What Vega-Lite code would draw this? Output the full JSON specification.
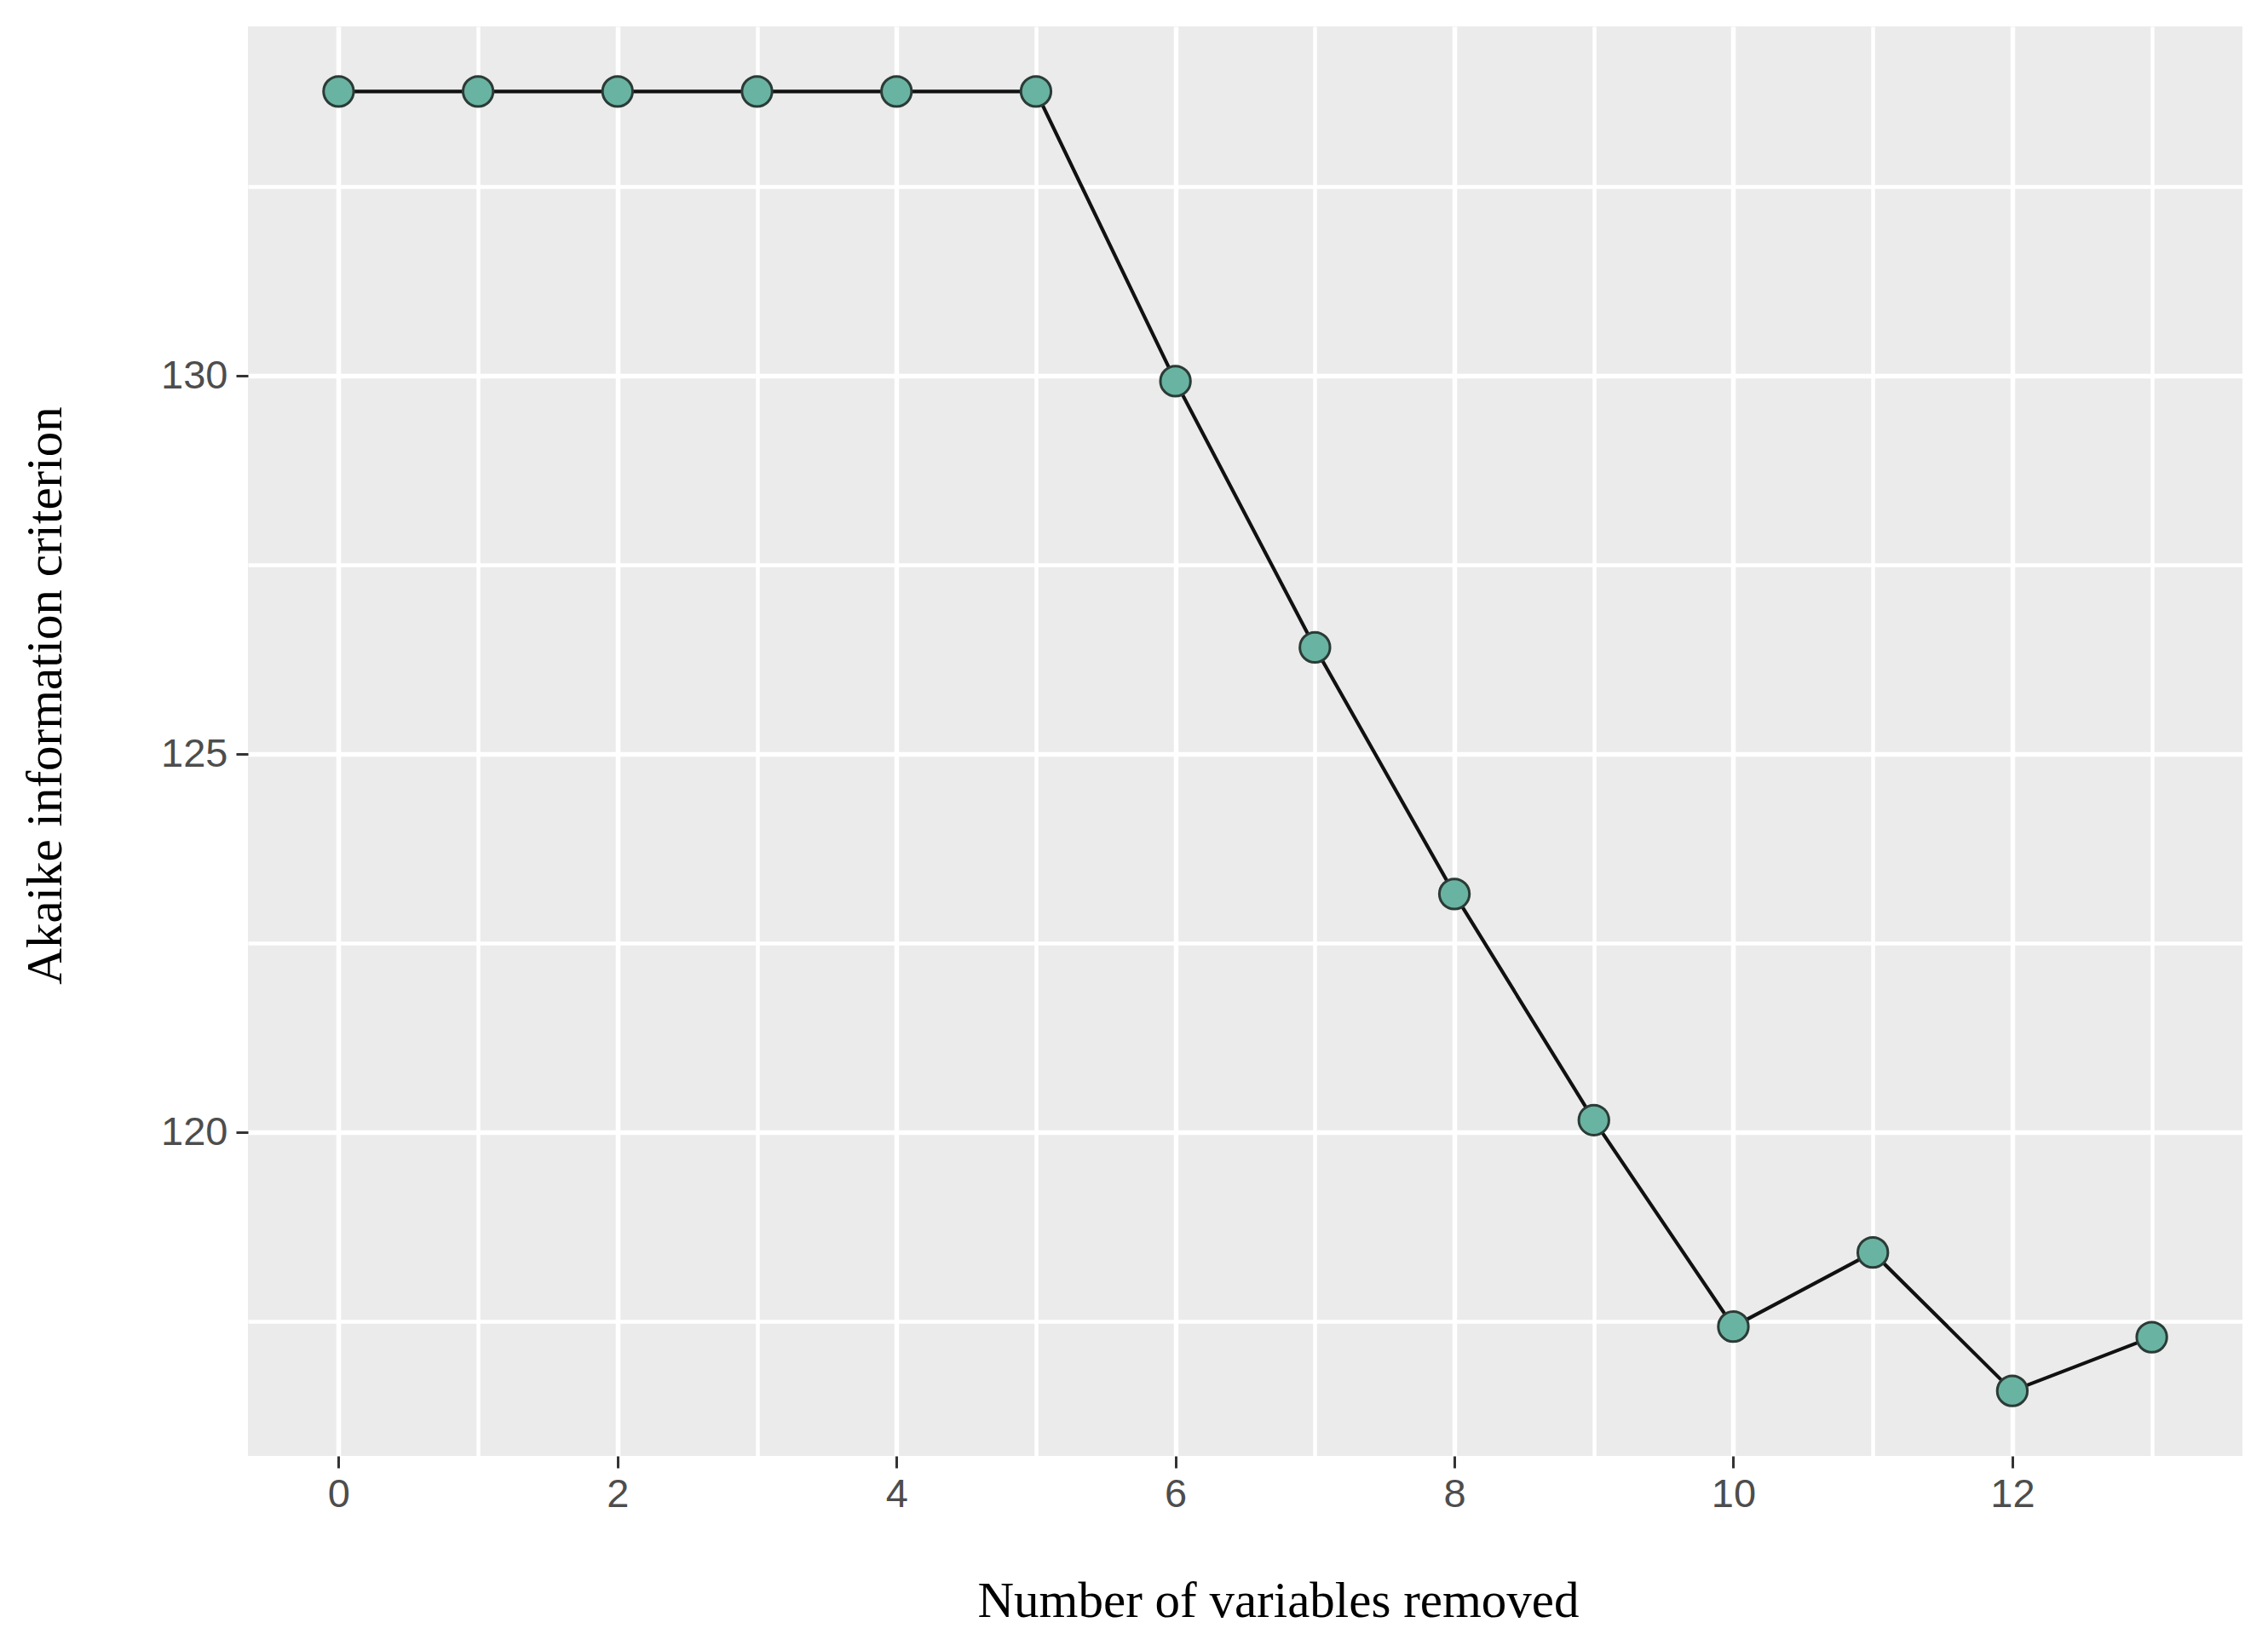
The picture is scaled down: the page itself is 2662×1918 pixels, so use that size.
{
  "$schema": "https://vega.github.io/schema/vega-lite/v6.json",
  "autosize": {"type": "none"},
  "width": 2341,
  "height": 1678,
  "padding": {"left": 291, "top": 31, "right": 30, "bottom": 209},
  "background": "white",
  "config": {
    "view": {"fill": "#EBEBEB", "stroke": null},
    "axis": {"domain": false}
  },
  "data": {
    "values": [
      {"removed": 0, "aic": 133.76},
      {"removed": 1, "aic": 133.76},
      {"removed": 2, "aic": 133.76},
      {"removed": 3, "aic": 133.76},
      {"removed": 4, "aic": 133.76},
      {"removed": 5, "aic": 133.76},
      {"removed": 6, "aic": 129.93},
      {"removed": 7, "aic": 126.41},
      {"removed": 8, "aic": 123.15},
      {"removed": 9, "aic": 120.16},
      {"removed": 10, "aic": 117.43},
      {"removed": 11, "aic": 118.41},
      {"removed": 12, "aic": 116.58},
      {"removed": 13, "aic": 117.29}
    ]
  },
  "encoding": {
    "x": {
      "field": "removed",
      "type": "quantitative",
      "scale": {"domain": [-0.65, 13.65], "nice": false, "zero": false},
      "axis": {
        "title": "Number of variables removed",
        "values": [0, 1, 2, 3, 4, 5, 6, 7, 8, 9, 10, 11, 12, 13],
        "labelExpr": "datum.value % 2 === 0 ? datum.label : ''",
        "labelFont": "Liberation Sans",
        "labelFontSize": 47,
        "labelColor": "#4D4D4D",
        "labelPadding": 8,
        "labelFlush": false,
        "labelOverlap": false,
        "tickSize": 14,
        "tickWidth": 3,
        "tickColor": "#333333",
        "tickOpacity": {"expr": "datum.value % 2 === 0 ? 1 : 0"},
        "gridColor": "white",
        "gridWidth": {"expr": "datum.value % 2 === 0 ? 5.5 : 4.5"},
        "gridOpacity": 1,
        "titleFont": "Liberation Serif",
        "titleFontSize": 59,
        "titleFontWeight": "normal",
        "titleColor": "black",
        "titleX": 1209,
        "titleY": 188,
        "titleBaseline": "alphabetic",
        "titleAlign": "center",
        "titleAnchor": null
      }
    },
    "y": {
      "field": "aic",
      "type": "quantitative",
      "scale": {"domain": [115.72, 134.62], "nice": false, "zero": false},
      "axis": {
        "title": "Akaike information criterion",
        "values": [117.5, 120, 122.5, 125, 127.5, 130, 132.5],
        "labelExpr": "datum.value % 5 === 0 ? datum.label : ''",
        "labelFont": "Liberation Sans",
        "labelFontSize": 47,
        "labelColor": "#4D4D4D",
        "labelPadding": 10,
        "labelFlush": false,
        "labelOverlap": false,
        "tickSize": 14,
        "tickWidth": 3,
        "tickColor": "#333333",
        "tickOpacity": {"expr": "datum.value % 5 === 0 ? 1 : 0"},
        "gridColor": "white",
        "gridWidth": {"expr": "datum.value % 5 === 0 ? 5.5 : 4.5"},
        "gridOpacity": 1,
        "titleFont": "Liberation Serif",
        "titleFontSize": 59,
        "titleFontWeight": "normal",
        "titleColor": "black",
        "titleAngle": 270,
        "titleX": -220,
        "titleY": 785,
        "titleBaseline": "alphabetic",
        "titleAlign": "center",
        "titleAnchor": null
      }
    }
  },
  "layer": [
    {
      "mark": {"type": "line", "color": "#111111", "strokeWidth": 4.2}
    },
    {
      "mark": {"type": "point", "shape": "circle", "filled": true, "fill": "#69b3a2", "stroke": "#2b3b36", "strokeWidth": 3, "size": 1250, "opacity": 1, "fillOpacity": 1}
    }
  ]
}
